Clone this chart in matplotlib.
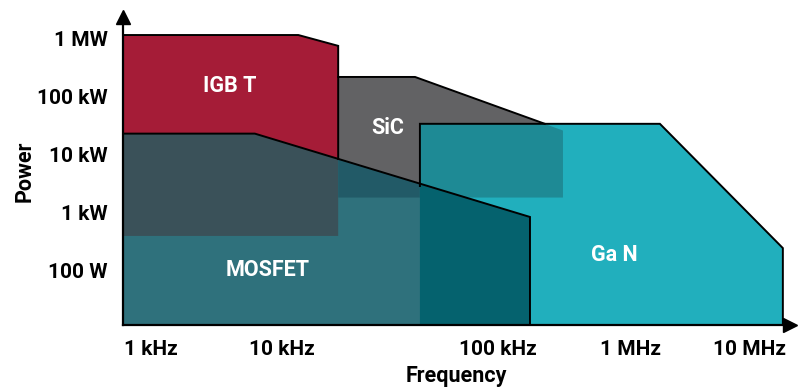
import numpy as np
import matplotlib
matplotlib.use("Agg")
import matplotlib.pyplot as plt

plt.rcParams['font.family'] = ['Roboto', 'DejaVu Sans']
plt.rcParams['font.weight'] = 'bold'

# frequency axis is schematic: decade ticks are not evenly spaced in the source
tick_freqs = [1e3, 1e4, 1e5, 1e6, 1e7]
tick_labels_x = ["1 kHz", "10 kHz", "100 kHz", "1 MHz", "10 MHz"]
tick_pos = [151, 282, 498, 631, 750]   # where each decade sits along the axis

tick_powers = [1e2, 1e3, 1e4, 1e5, 1e6]
tick_labels_y = ["100 W", "1 kW", "10 kW", "100 kW", "1 MW"]

f_min, f_max = 611, 2.17e7
p_min, p_max = 11.2, 2.4e6

# operating regions (frequency in Hz, power in W)
igbt_f = [f_min, 11.9e3, 18.2e3, 18.2e3, f_min]
igbt_p = [1.17e6, 1.17e6, 7.6e5, 390, 390]

mosfet_f = [f_min, 6.2e3, 174e3, 174e3, f_min]
mosfet_p = [2.3e4, 2.3e4, 830, p_min, p_min]

sic_f = [18.2e3, 41.3e3, 308e3, 308e3, 18.2e3]
sic_p = [2.2e5, 2.2e5, 2.6e4, 1.8e3, 1.8e3]

gan_f = [43.5e3, 1.75e6, 18.9e6, 18.9e6, 43.5e3]
gan_p = [3.4e4, 3.4e4, 240, p_min, p_min]

# outlined edges
igbt_edge_f = [f_min, 11.9e3, 18.2e3, 18.2e3]
igbt_edge_p = [1.17e6, 1.17e6, 7.6e5, 8.35e3]
sic_edge_f = [18.2e3, 41.3e3, 225e3]
sic_edge_p = [2.2e5, 2.2e5, 3.4e4]
mosfet_edge_f = [f_min, 6.2e3, 174e3, 174e3]
mosfet_edge_p = [2.3e4, 2.3e4, 830, p_min]
gan_edge_f = [43.5e3, 43.5e3, 1.75e6, 18.9e6, 18.9e6]
gan_edge_p = [2.85e3, 3.4e4, 3.4e4, 240, p_min]

c_igbt = "#A51C37"
c_mosfet = "#2F717C"
c_sic = "#626264"
c_gan = "#21AFBD"
c_igbt_mosfet = "#3A5159"
c_sic_mosfet = "#225A67"
c_sic_gan = "#1E8A95"
c_mosfet_gan = "#05626E"

lt = np.log10(tick_freqs)


def fwd(f):
    lf = np.log10(np.clip(f, 1e-9, None))
    out = np.interp(lf, lt, tick_pos)
    lo = lf < lt[0]
    hi = lf > lt[-1]
    out = np.where(lo, tick_pos[0] + (lf - lt[0]) * (tick_pos[1] - tick_pos[0]), out)
    out = np.where(hi, tick_pos[-1] + (lf - lt[-1]) * (tick_pos[-1] - tick_pos[-2]), out)
    return out


def inv(x):
    lf = np.interp(x, tick_pos, lt)
    lo = x < tick_pos[0]
    hi = x > tick_pos[-1]
    lf = np.where(lo, lt[0] + (x - tick_pos[0]) / (tick_pos[1] - tick_pos[0]), lf)
    lf = np.where(hi, lt[-1] + (x - tick_pos[-1]) / (tick_pos[-1] - tick_pos[-2]), lf)
    return 10 ** lf


fig = plt.figure(figsize=(7.98, 3.92), dpi=100)
ax = fig.add_axes([123 / 798, 1 - 325 / 392, (790 - 123) / 798, (325 - 17) / 392])
ax.set_xscale('function', functions=(fwd, inv))
ax.set_yscale('log')
ax.set_xlim(f_min, f_max)
ax.set_ylim(p_min, p_max)

# base regions
p_igbt = ax.fill(igbt_f, igbt_p, color=c_igbt, lw=0, zorder=1)[0]
p_sic = ax.fill(sic_f, sic_p, color=c_sic, lw=0, zorder=1)[0]
p_gan = ax.fill(gan_f, gan_p, color=c_gan, lw=0, zorder=1)[0]
p_mos = ax.fill(mosfet_f, mosfet_p, color=c_mosfet, lw=0, zorder=1)[0]

# overlaps
for f, p, col, clip in [(mosfet_f, mosfet_p, c_igbt_mosfet, p_igbt),
                        (mosfet_f, mosfet_p, c_sic_mosfet, p_sic),
                        (sic_f, sic_p, c_sic_gan, p_gan),
                        (mosfet_f, mosfet_p, c_mosfet_gan, p_gan)]:
    o = ax.fill(f, p, color=col, lw=0, zorder=2)[0]
    o.set_clip_path(clip)

for f, p in [(igbt_edge_f, igbt_edge_p), (sic_edge_f, sic_edge_p),
             (mosfet_edge_f, mosfet_edge_p), (gan_edge_f, gan_edge_p)]:
    ax.plot(f, p, color='black', lw=1.4, zorder=3, solid_joinstyle='miter')

lbl = dict(color='white', fontsize=15.5, fontweight='bold', ha='center', va='center', zorder=4)
ax.text(4.0e3, 1.55e5, "IGB T", **lbl)
ax.text(31e3, 2.9e4, "SiC", **lbl)
ax.text(7.8e3, 100, "MOSFET", **lbl)
ax.text(745e3, 182, "Ga N", **lbl)

for s in ['top', 'right']:
    ax.spines[s].set_visible(False)
for s in ['left', 'bottom']:
    ax.spines[s].set_linewidth(1.6)
    ax.spines[s].set_zorder(5)
ax.plot([0], [1], marker='^', color='black', ms=10, transform=ax.transAxes, clip_on=False, zorder=6)
ax.plot([1], [0], marker='>', color='black', ms=10, transform=ax.transAxes, clip_on=False, zorder=6)

ax.set_xticks(tick_freqs)
ax.set_xticklabels(tick_labels_x)
ax.set_yticks(tick_powers)
ax.set_yticklabels(tick_labels_y)
ax.minorticks_off()
ax.tick_params(length=0, labelsize=15, pad=11)
ax.set_xlabel("Frequency", fontsize=15.5, fontweight='bold', labelpad=4)
ax.set_ylabel("Power", fontsize=15.5, fontweight='bold', labelpad=1)

fig.savefig("out.png", dpi=100)
